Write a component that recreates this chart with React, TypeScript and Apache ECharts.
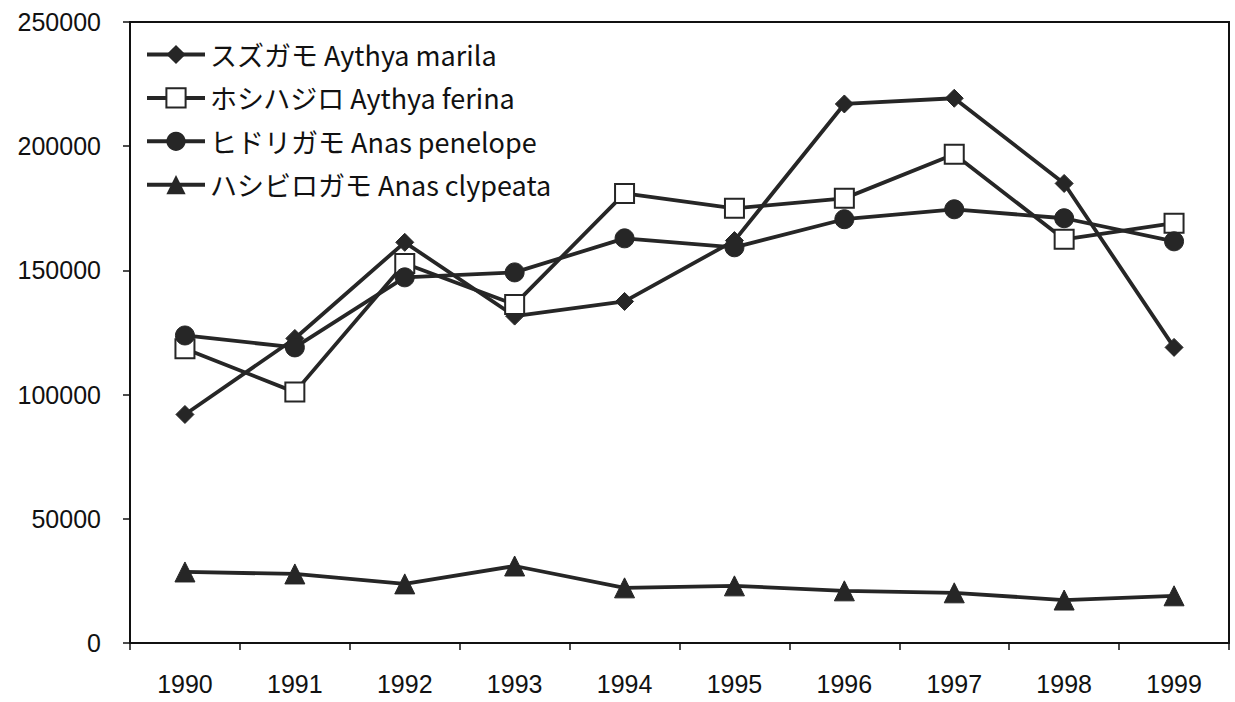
import React, { useEffect, useRef } from "react";
import * as echarts from "echarts";

const years = ["1990", "1991", "1992", "1993", "1994", "1995", "1996", "1997", "1998", "1999"];
const scaup = [92000, 122600, 161300, 131600, 137500, 162000, 217000, 219300, 185000, 119000];
const pochard = [118500, 101000, 152800, 136300, 181000, 175000, 179000, 196800, 162500, 169000];
const wigeon = [123800, 119000, 147200, 149200, 162900, 159300, 170600, 174600, 171000, 161700];
const shoveler = [28600, 27800, 23800, 31000, 22200, 23000, 21000, 20200, 17300, 19000];
const seriesNames = [
  "スズガモ Aythya marila",
  "ホシハジロ Aythya ferina",
  "ヒドリガモ Anas penelope",
  "ハシビロガモ Anas clypeata",
];

export default function App() {
  const ref = useRef<HTMLDivElement>(null);
  useEffect(() => {
    const chart = echarts.init(ref.current!, null, { renderer: "svg" });
    const dark = "#262626";
    const base = {
      type: "line",
      lineStyle: { color: dark, width: 3.8 },
      itemStyle: { color: dark, borderColor: dark },
      z: 2,
    };
    chart.setOption({
      animation: false,
      backgroundColor: "#fff",
      grid: {
        left: 130,
        right: 6,
        top: 22,
        bottom: 59,
        show: true,
        borderColor: "#111",
        borderWidth: 2,
      },
      legend: {
        orient: "vertical",
        left: 145,
        top: 41,
        padding: 0,
        itemWidth: 58,
        itemHeight: 24,
        itemGap: 16.4,
        lineStyle: { width: 4, color: dark },
        textStyle: {
          fontFamily: "'Noto Sans CJK JP', sans-serif",
          fontSize: 27,
          color: "#111",
          lineHeight: 20,
        },
        data: seriesNames,
      },
      xAxis: {
        type: "category",
        data: years,
        boundaryGap: true,
        axisLine: { lineStyle: { color: "#111", width: 2 } },
        axisTick: { show: true, length: 7, lineStyle: { color: "#111", width: 1.5 } },
        axisLabel: {
          fontFamily: "'Liberation Sans', Arial, sans-serif",
          fontSize: 25,
          color: "#111",
          margin: 28,
        },
      },
      yAxis: {
        type: "value",
        min: 0,
        max: 250000,
        interval: 50000,
        splitLine: { show: false },
        axisLine: { show: true, lineStyle: { color: "#111", width: 2 } },
        axisTick: { show: true, length: 7, lineStyle: { color: "#111", width: 1.5 } },
        axisLabel: {
          fontFamily: "'Liberation Sans', Arial, sans-serif",
          fontSize: 25,
          color: "#111",
          margin: 29,
          formatter: (v: number) => String(v),
        },
      },
      series: [
        { ...base, name: seriesNames[0], data: scaup, symbol: "diamond", symbolSize: 18 },
        {
          ...base,
          name: seriesNames[1],
          data: pochard,
          symbol: "rect",
          symbolSize: 19,
          itemStyle: { color: "#fff", borderColor: dark, borderWidth: 2 },
        },
        { ...base, name: seriesNames[2], data: wigeon, symbol: "circle", symbolSize: 19 },
        { ...base, name: seriesNames[3], data: shoveler, symbol: "triangle", symbolSize: 20 },
      ],
    });
    return () => chart.dispose();
  }, []);
  return (
    <div
      ref={ref}
      style={{ position: "fixed", left: 0, top: 0, width: 1235, height: 702, background: "#fff" }}
    />
  );
}
